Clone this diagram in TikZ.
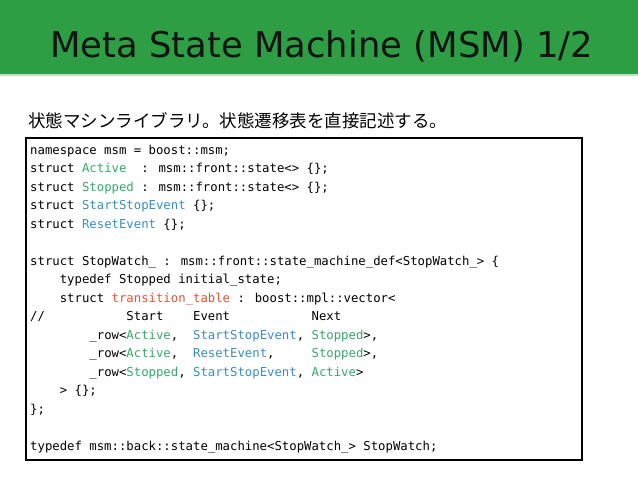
\documentclass[tikz,border=0pt]{standalone}
\usepackage{fontspec}
\newfontfamily\titlefont{DejaVu Sans}
\newfontfamily\jpfont{Noto Sans CJK JP}
\newfontfamily\codefont{DejaVu Sans Mono}
\definecolor{bandgreen}{RGB}{46,158,68}
\definecolor{bandedge}{RGB}{196,220,198}
\definecolor{typegreen}{RGB}{52,170,108}
\definecolor{evblue}{RGB}{58,140,198}
\definecolor{ttred}{RGB}{226,84,58}
\definecolor{titleink}{RGB}{20,20,20}
\newcommand\blanks[1]{\kern#1\fontcharwd\font`0\relax}
\newcommand\ty[1]{\textcolor{typegreen}{#1}}
\newcommand\ev[1]{\textcolor{evblue}{#1}}
\newcommand\rd[1]{\textcolor{ttred}{#1}}
\tikzset{
  codeline/.style={anchor=base west, inner sep=0pt, font=\codefont\fontsize{12.3}{18.5}\selectfont, text=black},
  titletext/.style={anchor=base west, inner sep=0pt, font=\titlefont\fontsize{35.4}{40}\selectfont, text=titleink},
  subtext/.style={anchor=base west, inner sep=0pt, font=\jpfont\fontsize{17.5}{20}\selectfont, text=black},
  codebox/.style={draw=black, line width=1.2pt}
}
\begin{document}
\begin{tikzpicture}[x=1pt,y=-1pt]
\useasboundingbox (0,0) rectangle (638,479);
\fill[white] (0,0) rectangle (638,479);
\fill[bandgreen] (0,0) rectangle (638,74);
\fill[bandedge] (0,74) rectangle (638,76);
\node[titletext] (title) at (50,57) {Meta State Machine (MSM) 1/2};
\node[subtext] (sub) at (28,127) {状態マシンライブラリ。状態遷移表を直接記述する。};
\draw[codebox] (26,138) rectangle (582,460);
\node[codeline] (l1) at (30,154) {namespace msm = boost::msm;};
\node[codeline] (l2) at (30,172.5) {struct \ty{Active}\blanks{2}: msm::front::state<> \{\};};
\node[codeline] (l3) at (30,191) {struct \ty{Stopped} : msm::front::state<> \{\};};
\node[codeline] (l4) at (30,209.5) {struct \ev{StartStopEvent} \{\};};
\node[codeline] (l5) at (30,228) {struct \ev{ResetEvent} \{\};};
\node[codeline] (l7) at (30,265) {struct StopWatch\_ : msm::front::state\_machine\_def<StopWatch\_> \{};
\node[codeline] (l8) at (30,283.5) {\blanks{4}typedef Stopped initial\_state;};
\node[codeline] (l9) at (30,302) {\blanks{4}struct \rd{transition\_table} : boost::mpl::vector<};
\node[codeline] (l10) at (30,320.5) {//\blanks{11}Start\blanks{4}Event\blanks{11}Next};
\node[codeline] (l11) at (30,339) {\blanks{8}\_row<\ty{Active},\blanks{2}\ev{StartStopEvent}, \ty{Stopped}>,};
\node[codeline] (l12) at (30,357.5) {\blanks{8}\_row<\ty{Active},\blanks{2}\ev{ResetEvent},\blanks{5}\ty{Stopped}>,};
\node[codeline] (l13) at (30,376) {\blanks{8}\_row<\ty{Stopped}, \ev{StartStopEvent}, \ty{Active}>};
\node[codeline] (l14) at (30,394.5) {\blanks{4}> \{\};};
\node[codeline] (l15) at (30,413) {\};};
\node[codeline] (l17) at (30,450) {typedef msm::back::state\_machine<StopWatch\_> StopWatch;};
\end{tikzpicture}
\end{document}
